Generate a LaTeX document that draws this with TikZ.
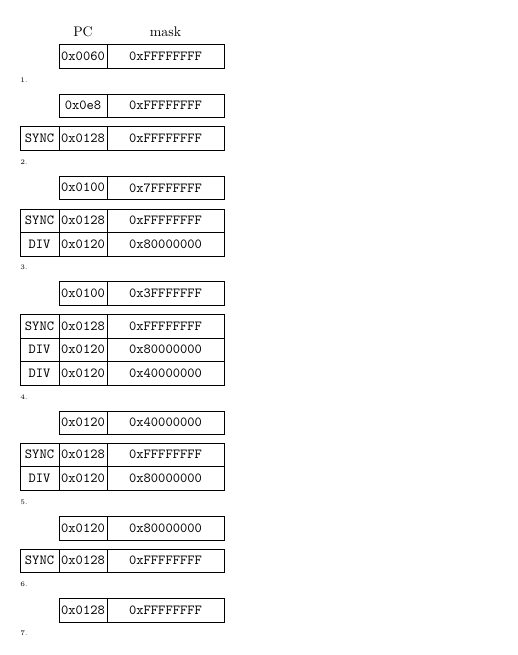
\documentclass[tikz,border=0pt]{standalone}
\usepackage{tikz}
\newcommand{\mycell}[6]{%
  \node[cellbox, minimum width={(#3-#2)*0.722pt}, minimum height={(#5-#4)*0.722pt}]
    (#1) at ({(#2+#3)/2},{(#4+#5)/2}) {#6};}
\begin{document}
\begin{tikzpicture}[x=0.722pt,y=-0.722pt,
  cellbox/.style={draw=black, line width=0.5pt, rectangle, inner sep=0pt, font=\ttfamily},
  head/.style={inner sep=0pt, font=\normalsize},
  steplabel/.style={inner sep=0pt, anchor=west, font=\tiny}]
\useasboundingbox (0,0) rectangle (517,655);
% headers
\node[head] (hpc) at (83,32) {PC};
\node[head] (hmask) at (165.5,32) {mask};
% step 1
\mycell{a1}{59}{107}{44}{68}{0x0060}
\mycell{b1}{107}{224}{44}{68}{0xFFFFFFFF}
\node[steplabel] (l1) at (20,80) {1.};
% step 2
\mycell{a2}{59}{107}{94}{117.5}{0x0e8}
\mycell{b2}{107}{224}{94}{117.5}{0xFFFFFFFF}
\mycell{s2a}{20}{59}{126}{150}{SYNC}
\mycell{s2b}{59}{107}{126}{150}{0x0128}
\mycell{s2c}{107}{224}{126}{150}{0xFFFFFFFF}
\node[steplabel] (l2) at (20,162) {2.};
% step 3
\mycell{a3}{59}{107}{176}{199.5}{0x0100}
\mycell{b3}{107}{224}{176}{199.5}{0x7FFFFFFF}
\mycell{s3a}{20}{59}{209}{232.5}{SYNC}
\mycell{s3b}{59}{107}{209}{232.5}{0x0128}
\mycell{s3c}{107}{224}{209}{232.5}{0xFFFFFFFF}
\mycell{d3a}{20}{59}{232.5}{256}{DIV}
\mycell{d3b}{59}{107}{232.5}{256}{0x0120}
\mycell{d3c}{107}{224}{232.5}{256}{0x80000000}
\node[steplabel] (l3) at (20,267) {3.};
% step 4
\mycell{a4}{59}{107}{281}{305}{0x0100}
\mycell{b4}{107}{224}{281}{305}{0x3FFFFFFF}
\mycell{s4a}{20}{59}{314}{338}{SYNC}
\mycell{s4b}{59}{107}{314}{338}{0x0128}
\mycell{s4c}{107}{224}{314}{338}{0xFFFFFFFF}
\mycell{d4a}{20}{59}{338}{361.5}{DIV}
\mycell{d4b}{59}{107}{338}{361.5}{0x0120}
\mycell{d4c}{107}{224}{338}{361.5}{0x80000000}
\mycell{e4a}{20}{59}{361.5}{385}{DIV}
\mycell{e4b}{59}{107}{361.5}{385}{0x0120}
\mycell{e4c}{107}{224}{361.5}{385}{0x40000000}
\node[steplabel] (l4) at (20,397) {4.};
% step 5
\mycell{a5}{59}{107}{411}{434.5}{0x0120}
\mycell{b5}{107}{224}{411}{434.5}{0x40000000}
\mycell{s5a}{20}{59}{443}{466.5}{SYNC}
\mycell{s5b}{59}{107}{443}{466.5}{0x0128}
\mycell{s5c}{107}{224}{443}{466.5}{0xFFFFFFFF}
\mycell{d5a}{20}{59}{466.5}{490}{DIV}
\mycell{d5b}{59}{107}{466.5}{490}{0x0120}
\mycell{d5c}{107}{224}{466.5}{490}{0x80000000}
\node[steplabel] (l5) at (20,502) {5.};
% step 6
\mycell{a6}{59}{107}{516}{540}{0x0120}
\mycell{b6}{107}{224}{516}{540}{0x80000000}
\mycell{s6a}{20}{59}{549}{572.5}{SYNC}
\mycell{s6b}{59}{107}{549}{572.5}{0x0128}
\mycell{s6c}{107}{224}{549}{572.5}{0xFFFFFFFF}
\node[steplabel] (l6) at (20,584) {6.};
% step 7
\mycell{a7}{59}{107}{598}{622}{0x0128}
\mycell{b7}{107}{224}{598}{622}{0xFFFFFFFF}
\node[steplabel] (l7) at (20,633) {7.};
\end{tikzpicture}
\end{document}
